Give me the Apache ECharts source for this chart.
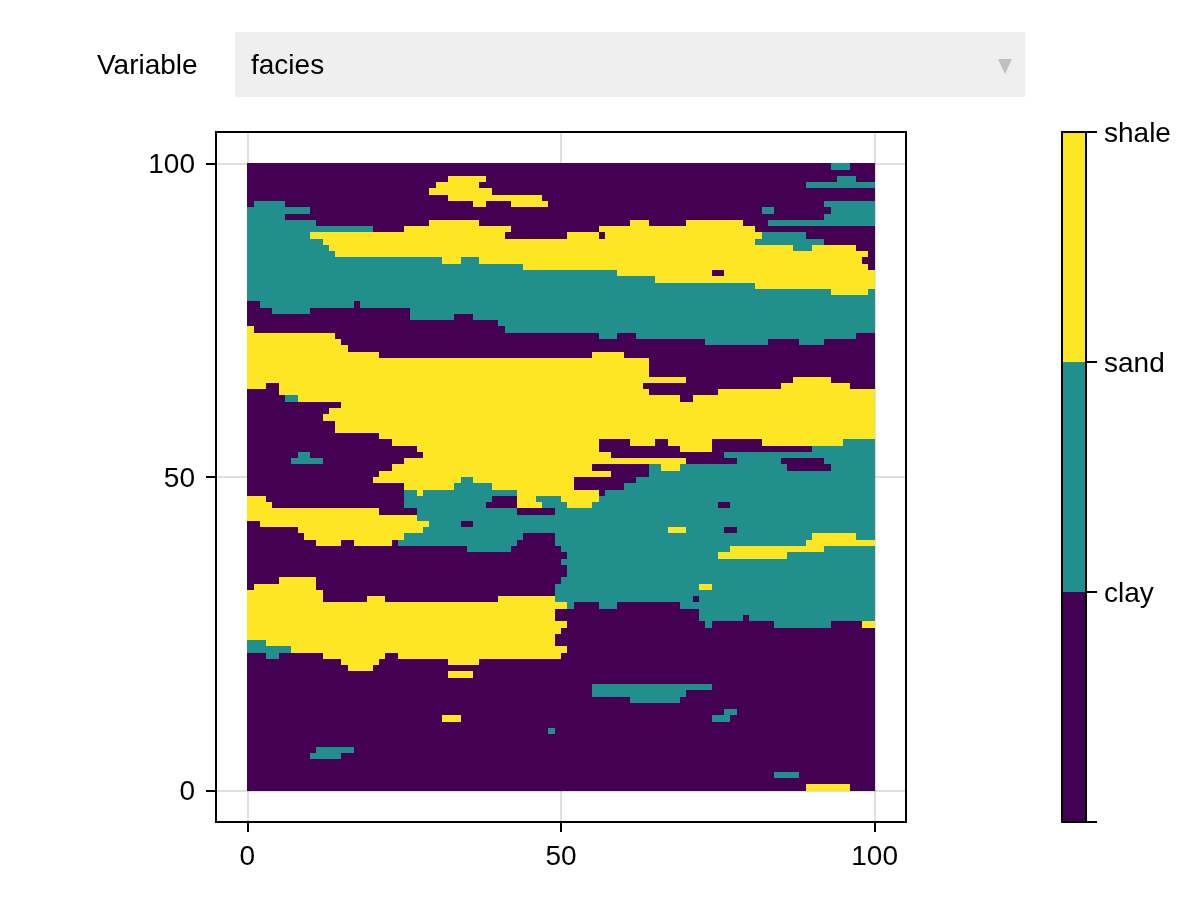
<!DOCTYPE html>
<html>
<head>
<meta charset="utf-8">
<title>facies</title>
<script src="https://cdn.jsdelivr.net/npm/echarts@6/dist/echarts.min.js"></script>
<style>
  html, body { margin: 0; padding: 0; background: #fff; }
  #main { width: 1200px; height: 900px; }
</style>
</head>
<body>
<div id="main"></div>
<script>
// facies codes and labels
var faciesNames = ['clay', 'sand', 'shale'];
var faciesColors = ['#440154', '#21908c', '#fde725'];
var axisTicks = [0, 50, 100];
var colorbarLabels = ['', 'clay', 'sand', 'shale'];
var variableLabel = 'Variable';
var variableValue = 'facies';

// one list per grid row, top row (y = 99) first
// each run is [from, to, code], whatever is not listed is clay
var faciesRows = [
  [[93,96,1]],
  [],
  [[32,38,2],[94,97,1]],
  [[30,37,2],[89,100,1]],
  [[29,39,2]],
  [[32,47,2]],
  [[1,6,1],[36,38,2],[42,48,2],[92,100,1]],
  [[0,10,1],[82,84,1],[93,100,1]],
  [[0,6,1],[92,100,1]],
  [[0,11,1],[29,37,2],[61,64,2],[70,79,2],[83,100,1]],
  [[0,20,1],[25,42,2],[56,81,2]],
  [[0,10,1],[10,41,2],[51,56,2],[57,82,2],[82,89,1]],
  [[0,12,1],[12,81,2],[81,92,1]],
  [[0,13,1],[13,87,2],[87,90,1],[90,97,2]],
  [[0,14,1],[14,99,2]],
  [[0,31,1],[31,34,2],[34,37,1],[37,98,2]],
  [[0,44,1],[44,99,2]],
  [[0,59,1],[59,74,2],[76,100,2]],
  [[0,65,1],[65,100,2]],
  [[0,81,1],[81,100,2]],
  [[0,93,1],[93,99,2],[99,100,1]],
  [[0,100,1]],
  [[2,17,1],[18,100,1]],
  [[4,10,1],[26,100,1]],
  [[26,33,1],[36,100,1]],
  [[40,100,1]],
  [[0,1,2],[41,100,1]],
  [[0,14,2],[56,59,1],[62,97,1]],
  [[0,15,2],[73,83,1],[88,92,1]],
  [[0,16,2]],
  [[0,21,2],[55,60,2]],
  [[0,64,2]],
  [[0,64,2]],
  [[0,64,2]],
  [[0,70,2],[87,93,2]],
  [[0,3,2],[5,63,2],[85,96,2]],
  [[5,64,2],[75,100,2]],
  [[6,8,1],[8,69,2],[71,100,2]],
  [[15,100,2]],
  [[13,100,2]],
  [[12,100,2]],
  [[14,100,2]],
  [[14,100,2]],
  [[21,100,2]],
  [[23,56,2],[61,65,2],[67,74,2],[82,95,2],[95,100,1]],
  [[27,56,2],[69,74,2],[90,100,1]],
  [[8,10,1],[28,58,2],[76,100,1]],
  [[7,12,1],[25,70,2],[78,85,1],[92,100,1]],
  [[23,55,2],[64,66,1],[66,69,2],[69,86,1],[93,100,1]],
  [[21,58,2],[64,100,1]],
  [[20,34,2],[34,36,1],[36,52,2],[62,100,1]],
  [[25,33,2],[33,39,1],[39,52,2],[60,100,1]],
  [[25,27,1],[27,28,2],[28,43,1],[43,56,2],[57,100,1]],
  [[0,3,2],[25,39,1],[43,46,2],[46,50,1],[50,56,2],[56,100,1]],
  [[0,4,2],[25,38,1],[43,47,2],[47,51,1],[51,55,2],[55,75,1],[77,100,1]],
  [[0,21,2],[27,43,1],[49,100,1]],
  [[0,27,2],[27,100,1]],
  [[2,29,2],[29,34,1],[36,100,1]],
  [[8,28,2],[28,67,1],[67,70,2],[70,76,1],[78,100,1]],
  [[9,25,2],[25,44,1],[49,90,1],[90,97,2],[97,100,1]],
  [[11,15,2],[17,23,2],[24,43,1],[49,89,1],[89,100,2]],
  [[35,42,1],[50,77,1],[77,92,2],[92,100,1]],
  [[51,75,1],[75,86,2],[86,100,1]],
  [[50,100,1]],
  [[51,100,1]],
  [[51,100,1]],
  [[5,11,2],[50,100,1]],
  [[1,11,2],[49,72,1],[72,74,2],[74,100,1]],
  [[0,12,2],[49,100,1]],
  [[0,12,2],[19,22,2],[40,49,2],[49,71,1],[72,100,1]],
  [[0,51,2],[51,52,1],[56,59,1],[69,100,1]],
  [[0,49,2],[72,100,1]],
  [[0,49,2],[72,79,1],[80,100,1]],
  [[0,51,2],[73,74,1],[84,93,1],[98,100,2]],
  [[0,50,2]],
  [[0,49,2]],
  [[0,3,1],[3,49,2]],
  [[0,7,1],[7,51,2]],
  [[3,5,1],[12,22,2],[24,50,2]],
  [[15,21,2],[32,37,2]],
  [[16,20,2]],
  [[32,36,2]],
  [],
  [[55,74,1]],
  [[55,70,1]],
  [[61,69,1]],
  [],
  [[76,78,1]],
  [[31,34,2],[74,77,1]],
  [],
  [[48,49,1]],
  [],
  [],
  [[11,17,1]],
  [[10,15,1]],
  [],
  [],
  [[84,88,1]],
  [],
  [[89,96,2]]
];

// turn the runs into [x0, x1, y0, y1, code] items, filling the gaps with clay
var cells = [];
faciesRows.forEach(function (runs, r) {
  var y0 = 99 - r;
  var pos = 0;
  runs.forEach(function (run) {
    if (run[0] > pos) cells.push([pos, run[0], y0, y0 + 1, 0]);
    cells.push([run[0], run[1], y0, y0 + 1, run[2]]);
    pos = run[1];
  });
  if (pos < 100) cells.push([pos, 100, y0, y0 + 1, 0]);
});

var colorbarCells = faciesNames.map(function (name, i) {
  return [0, 1, i, i + 1, i];
});

// snap to whole pixels so neighbouring runs leave no seams
function renderRun(params, api) {
  var a = api.coord([api.value(0), api.value(3)]);
  var b = api.coord([api.value(1), api.value(2)]);
  var x = Math.round(a[0]);
  var y = Math.round(a[1]);
  return {
    type: 'rect',
    shape: { x: x, y: y, width: Math.round(b[0]) - x, height: Math.round(b[1]) - y },
    style: { fill: faciesColors[api.value(4)] }
  };
}

var textFont = 'Liberation Sans';
var fontSize = 28;
var black = '#000';
// rich token with top padding pushes the y labels down a little
var shifted = { shift: { padding: [4, 0, 0, 0], fontSize: fontSize, fontFamily: textFont, color: black } };

var myChart = echarts.init(document.getElementById('main'));

var option = {
  animation: false,
  textStyle: { fontFamily: textFont },
  grid: [
    { left: 216, top: 132, width: 690, height: 690, show: true, borderColor: black, borderWidth: 2, backgroundColor: 'transparent' },
    { left: 1062, top: 132, width: 24, height: 690 }
  ],
  xAxis: [
    {
      type: 'value', gridIndex: 0, min: -5, max: 105, position: 'bottom',
      axisLine: { show: false, onZero: false },
      axisTick: { customValues: axisTicks, length: 10, lineStyle: { color: black, width: 2 } },
      axisLabel: { customValues: axisTicks, color: black, fontSize: fontSize, fontFamily: textFont, margin: 21 },
      splitLine: { show: true, lineStyle: { color: 'rgba(0,0,0,0.12)', width: 2 } }
    },
    {
      type: 'value', gridIndex: 1, min: 0, max: 1, position: 'bottom', z: 10,
      axisLine: { show: true, onZero: false, lineStyle: { color: black, width: 2 } },
      axisTick: { show: false }, axisLabel: { show: false }, splitLine: { show: false }
    },
    {
      type: 'value', gridIndex: 1, min: 0, max: 1, position: 'top', z: 10,
      axisLine: { show: true, onZero: false, lineStyle: { color: black, width: 2 } },
      axisTick: { show: false }, axisLabel: { show: false }, splitLine: { show: false }
    }
  ],
  yAxis: [
    {
      type: 'value', gridIndex: 0, min: -5, max: 105, position: 'left',
      axisLine: { show: false, onZero: false },
      axisTick: { customValues: axisTicks, length: 10, lineStyle: { color: black, width: 2 } },
      axisLabel: {
        customValues: axisTicks, color: black, fontSize: fontSize, fontFamily: textFont, margin: 21, rich: shifted,
        formatter: function (v) { return '{shift|' + v + '}'; }
      },
      splitLine: { show: true, lineStyle: { color: 'rgba(0,0,0,0.12)', width: 2 } }
    },
    {
      type: 'value', gridIndex: 1, min: 0, max: 3, interval: 1, position: 'right', z: 10,
      axisLine: { show: true, onZero: false, lineStyle: { color: black, width: 2 } },
      axisTick: { length: 11, lineStyle: { color: black, width: 2 } },
      axisLabel: {
        color: black, fontSize: fontSize, fontFamily: textFont, margin: 18, rich: shifted,
        formatter: function (v) { return colorbarLabels[v] ? '{shift|' + colorbarLabels[v] + '}' : ''; }
      },
      splitLine: { show: false }
    },
    {
      type: 'value', gridIndex: 1, min: 0, max: 3, position: 'left', z: 10,
      axisLine: { show: true, onZero: false, lineStyle: { color: black, width: 2 } },
      axisTick: { show: false }, axisLabel: { show: false }, splitLine: { show: false }
    }
  ],
  series: [
    {
      name: 'facies', type: 'custom', xAxisIndex: 0, yAxisIndex: 0,
      renderItem: renderRun, data: cells, silent: true, z: 2
    },
    {
      name: 'colorbar', type: 'custom', xAxisIndex: 1, yAxisIndex: 1,
      renderItem: renderRun, data: colorbarCells, silent: true, z: 2
    }
  ],
  // the dropdown above the plot
  graphic: [
    { type: 'rect', left: 235, top: 32, shape: { width: 790, height: 65 }, style: { fill: '#efefef' }, silent: true },
    { type: 'polygon', shape: { points: [[998, 59], [1012, 59], [1005, 74]] }, style: { fill: '#c0c0c0' }, silent: true },
    { type: 'text', left: 97, top: 52, style: { text: variableLabel, fill: black, font: fontSize + 'px "' + textFont + '"' }, silent: true },
    { type: 'text', left: 251, top: 52, style: { text: variableValue, fill: black, font: fontSize + 'px "' + textFont + '"' }, silent: true }
  ]
};

myChart.setOption(option);
</script>
</body>
</html>
